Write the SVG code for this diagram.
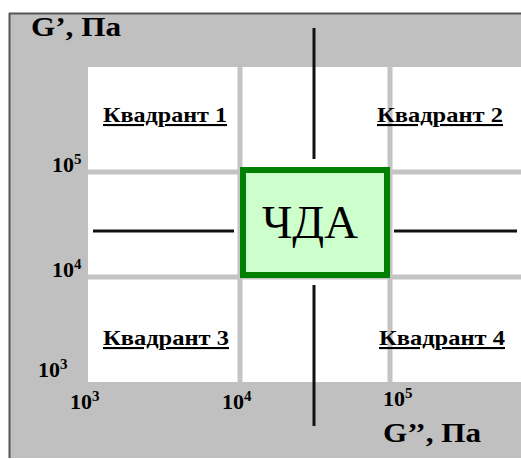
<svg xmlns="http://www.w3.org/2000/svg" width="521" height="459" viewBox="0 0 521 459">
<style>
.t{font-family:"Liberation Serif","Times New Roman",serif;font-weight:bold;fill:#000}
.q{font-size:21px;text-decoration:underline}
.n{font-size:22px}
.grid{stroke:#c4c4c4;stroke-width:5}
.bl{stroke:#111;stroke-width:3}
</style>
<rect x="0" y="0" width="521" height="459" fill="#fff"/>
<rect x="9" y="13" width="512" height="445" fill="#c0c0c0"/>
<line x1="9.5" y1="13" x2="9.5" y2="458" stroke="#555" stroke-width="2"/>
<line x1="9" y1="13.5" x2="521" y2="13.5" stroke="#555" stroke-width="2"/>
<rect x="88" y="67" width="433" height="315" fill="#fff"/>
<g id="grid">
<line class="grid" x1="240" y1="67" x2="240" y2="382"/>
<line class="grid" x1="390" y1="67" x2="390" y2="382"/>
<line class="grid" x1="88" y1="172" x2="521" y2="172"/>
<line class="grid" x1="88" y1="277" x2="521" y2="277"/>
</g>
<g id="connectors">
<line class="bl" x1="314" y1="28" x2="314" y2="159"/>
<line class="bl" x1="314" y1="285" x2="314" y2="426"/>
<line class="bl" x1="93" y1="231" x2="234" y2="231"/>
<line class="bl" x1="394" y1="231" x2="517" y2="231"/>
</g>
<g id="cda">
<rect x="243" y="170" width="144" height="105" fill="#ccffcc" stroke="#008000" stroke-width="6"/>
<text x="310" y="238" text-anchor="middle" font-family="Liberation Serif, Times New Roman, serif" font-size="46" textLength="96" lengthAdjust="spacingAndGlyphs" fill="#000">ЧДА</text>
</g>
<g id="q1"><text class="t q" x="103" y="122" textLength="124" lengthAdjust="spacingAndGlyphs">Квадрант 1</text></g>
<g id="q2"><text class="t q" x="377" y="122" textLength="126" lengthAdjust="spacingAndGlyphs">Квадрант 2</text></g>
<g id="q3"><text class="t q" x="103" y="345" textLength="126" lengthAdjust="spacingAndGlyphs">Квадрант 3</text></g>
<g id="q4"><text class="t q" x="379" y="345" textLength="126" lengthAdjust="spacingAndGlyphs">Квадрант 4</text></g>
<g id="labels">
<text class="t" font-size="27" x="31" y="36" textLength="90" lengthAdjust="spacingAndGlyphs">G’, Па</text>
<text class="t" font-size="28" x="383" y="442" textLength="98" lengthAdjust="spacingAndGlyphs">G’’, Па</text>
<text class="t n" x="52" y="172">10<tspan font-size="15" dy="-8">5</tspan></text>
<text class="t n" x="52" y="277">10<tspan font-size="15" dy="-8">4</tspan></text>
<text class="t n" x="38" y="377">10<tspan font-size="15" dy="-8">3</tspan></text>
<text class="t n" x="70" y="409">10<tspan font-size="15" dy="-8">3</tspan></text>
<text class="t n" x="222" y="409">10<tspan font-size="15" dy="-8">4</tspan></text>
<text class="t n" x="383" y="406">10<tspan font-size="15" dy="-8">5</tspan></text>
</g>
</svg>
